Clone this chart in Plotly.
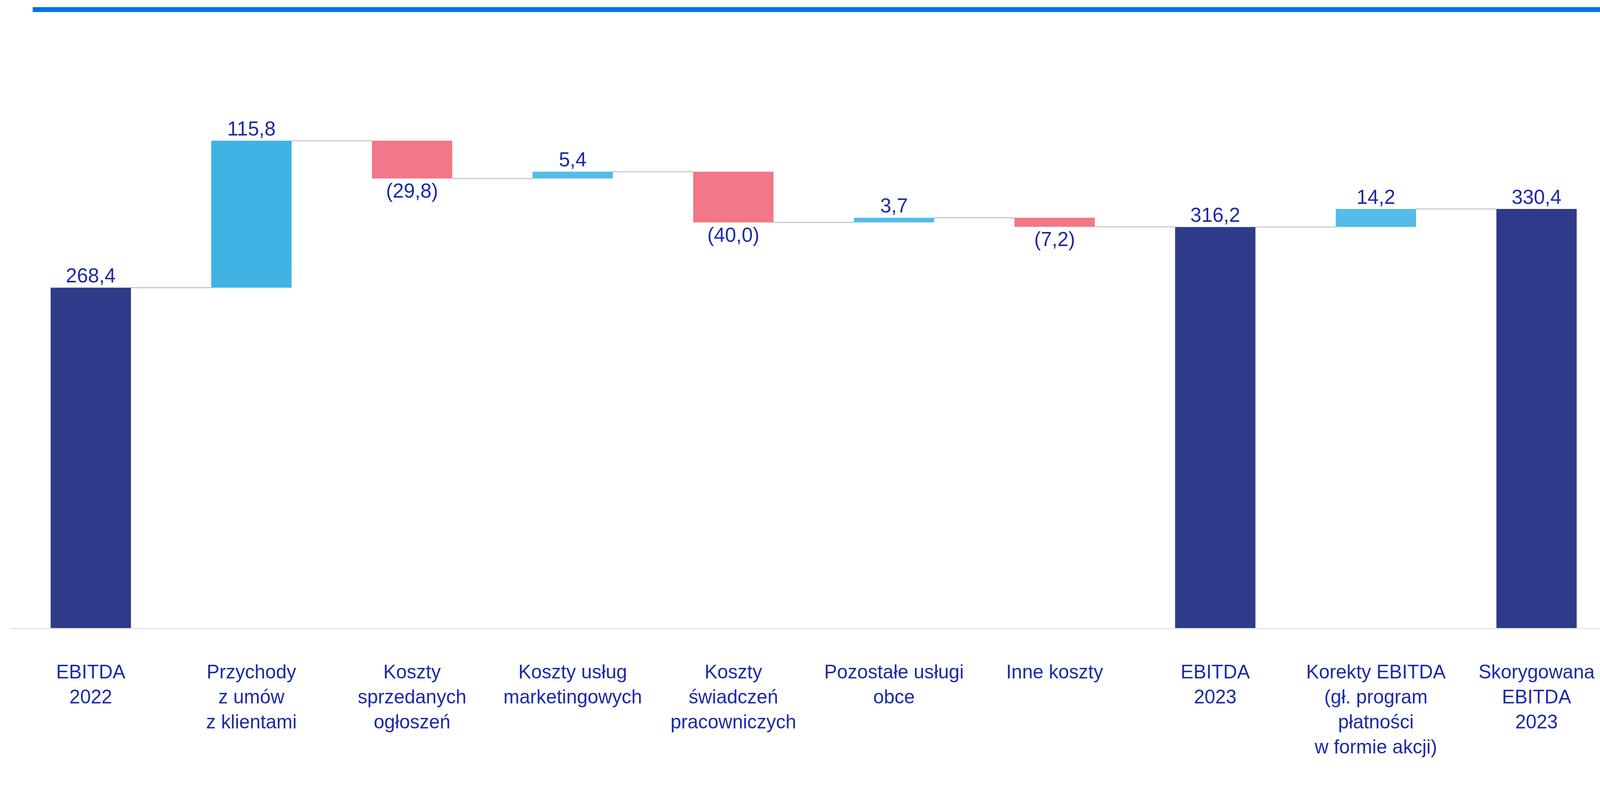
import plotly.graph_objects as go

categories = [
    "EBITDA<br>2022",
    "Przychody<br>z umów<br>z klientami",
    "Koszty<br>sprzedanych<br>ogłoszeń",
    "Koszty usług<br>marketingowych",
    "Koszty<br>świadczeń<br>pracowniczych",
    "Pozostałe usługi<br>obce",
    "Inne koszty",
    "EBITDA<br>2023",
    "Korekty EBITDA<br>(gł. program<br>płatności<br>w formie akcji)",
    "Skorygowana<br>EBITDA<br>2023",
]
values = [268.4, 115.8, -29.8, 5.4, -40.0, 3.7, -7.2, 316.2, 14.2, 330.4]
measures = ["absolute", "relative", "relative", "relative", "relative",
            "relative", "relative", "total", "relative", "total"]

NAVY = "#2F3A8A"
BLUE_BIG = "#3FB3E3"
BLUE = "#54BCE7"
PINK = "#F27788"
TEXT = "#1B2AA8"
CONN = "#C8C8C8"

# compute bases / heights from data
bases, heights, colors, texts, levels = [], [], [], [], []
level = 0.0
for i, (v, m) in enumerate(zip(values, measures)):
    if m in ("absolute", "total"):
        bases.append(0.0)
        heights.append(v)
        level = v
        colors.append(NAVY)
        texts.append(f"{v:.1f}".replace(".", ","))
    else:
        bases.append(level)
        heights.append(v)
        level = level + v
        if v >= 0:
            colors.append(BLUE_BIG if v > 50 else BLUE)
            texts.append(f"{v:.1f}".replace(".", ","))
        else:
            colors.append(PINK)
            texts.append("(" + f"{-v:.1f}".replace(".", ",") + ")")
    levels.append(level)

xs = list(range(len(categories)))
BW = 0.5

fig = go.Figure()
fig.add_trace(go.Bar(
    x=xs, y=heights, base=bases, width=BW,
    marker=dict(color=colors, line=dict(width=0)),
    text=texts, textposition="outside", cliponaxis=False,
    constraintext="none",
    textfont=dict(family="Liberation Sans, Arial", size=53, color=TEXT),
    showlegend=False, hoverinfo="skip",
))

# connectors
cx, cy = [], []
for i in range(len(xs) - 1):
    cx += [xs[i] + BW / 2, xs[i + 1] - BW / 2, None]
    cy += [levels[i], levels[i], None]
fig.add_trace(go.Scatter(x=cx, y=cy, mode="lines",
                         line=dict(color=CONN, width=3),
                         showlegend=False, hoverinfo="skip"))

W, H = 4256, 2015
ML, MR, MT, MB = 27, 0, 60, 342
plot_h = H - MT - MB
y_top_px = 25.5
y_paper = (H - MB - y_top_px) / plot_h
x0_paper = (87 - ML) / (W - ML - MR)

fig.update_layout(
    width=W, height=H,
    margin=dict(l=ML, r=MR, t=MT, b=MB, pad=0),
    plot_bgcolor="white", paper_bgcolor="white",
    bargap=0.5,
    font=dict(family="Liberation Sans, Arial", color=TEXT),
    xaxis=dict(
        range=[-0.502, 9.395],
        tickmode="array", tickvals=xs, ticktext=categories,
        tickfont=dict(family="Liberation Sans, Arial", size=51, color=TEXT),
        ticks="outside", ticklen=70, tickcolor="rgba(0,0,0,0)",
        showline=True, linecolor="#E6E6E6", linewidth=3,
        showgrid=False, zeroline=False,
    ),
    yaxis=dict(range=[0, plot_h / 3.379], visible=False, showgrid=False, zeroline=False),
    shapes=[dict(type="line", xref="paper", yref="paper",
                 x0=x0_paper, x1=1.0, y0=y_paper, y1=y_paper,
                 line=dict(color="#0070EB", width=13))],
)

post = ("document.body.style.margin='0';"
        "document.documentElement.style.overflow='hidden';"
        "document.body.style.overflow='hidden';"
        "var gd=document.getElementById('{plot_id}');"
        "var s=Math.min(window.innerWidth/4256, window.innerHeight/2015);"
        "if(Math.abs(s-1)>0.002){gd.style.transformOrigin='0 0';"
        "gd.style.transform='scale('+s+')';}")

fig.write_html("out.html", post_script=post, config={"displayModeBar": False})
